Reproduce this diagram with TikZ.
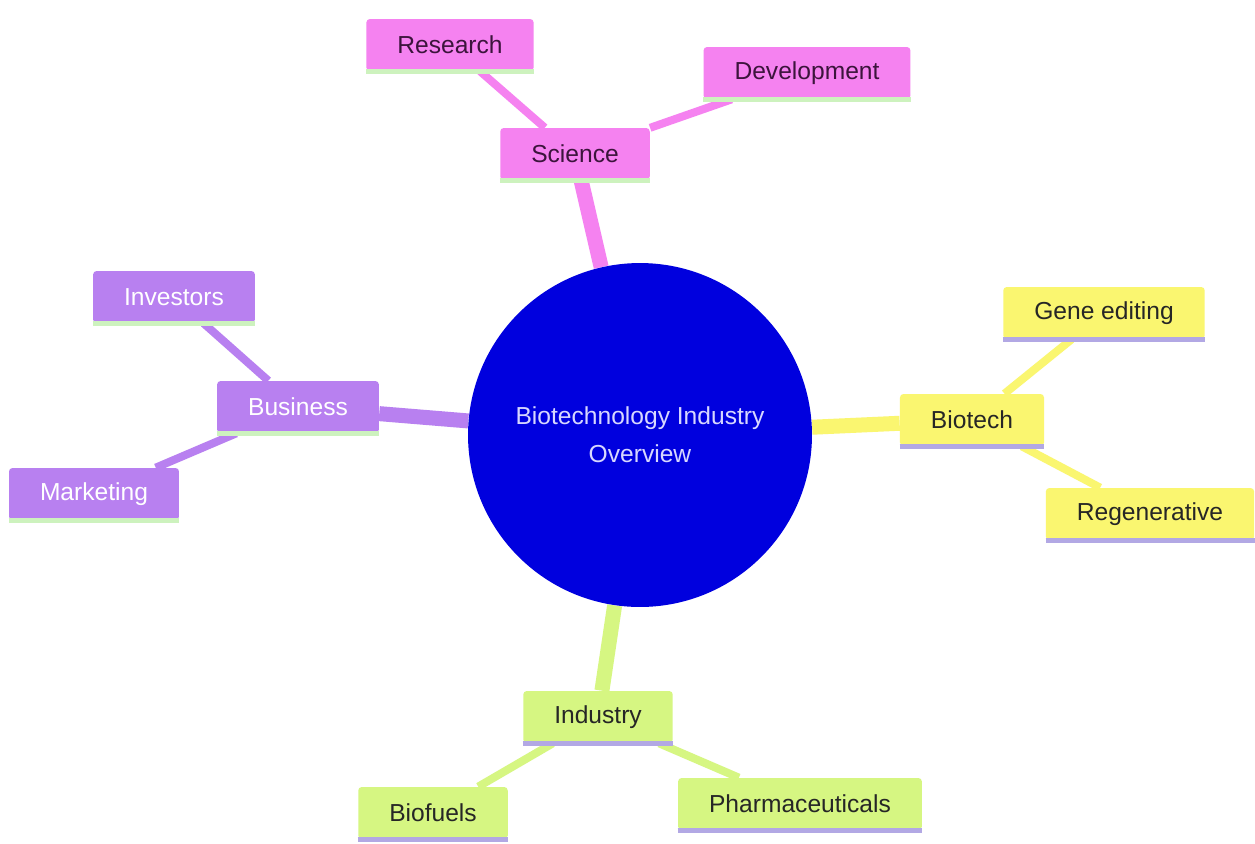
\documentclass[tikz,border=0pt]{standalone}
\usepackage{fontspec}
\setmainfont{Liberation Sans}
\usetikzlibrary{backgrounds}
\definecolor{sciencepink}{RGB}{245,130,240}
\definecolor{sciencetext}{RGB}{60,20,60}
\definecolor{businesspurple}{RGB}{184,128,240}
\definecolor{biotechyellow}{RGB}{250,246,112}
\definecolor{industrylime}{RGB}{214,246,130}
\definecolor{hubblue}{RGB}{0,0,222}
\definecolor{hubtext}{RGB}{215,215,255}
\definecolor{greenline}{RGB}{205,242,190}
\definecolor{lavenderline}{RGB}{178,168,228}
\tikzset{basic/.style={rectangle,rounded corners=2pt,inner xsep=0.62cm,minimum height=1.04cm,font=\fontsize{14}{16}\selectfont}}
\tikzset{science/.style={basic,fill=sciencepink,text=sciencetext}}
\tikzset{business/.style={basic,fill=businesspurple,text=white}}
\tikzset{biotech/.style={basic,fill=biotechyellow,text=black!85}}
\tikzset{industry/.style={basic,fill=industrylime,text=black!85}}
\tikzset{hub/.style={circle,fill=hubblue,text=hubtext,minimum size=6.88cm,align=center,font=\fontsize{14}{21.5}\selectfont}}
\tikzset{trunk/.style={line width=0.3cm}}
\tikzset{twig/.style={line width=0.16cm}}
\tikzset{uline/.style={line width=2.5pt}}

\begin{document}
\begin{tikzpicture}[x=0.02cm,y=-0.02cm]
    \useasboundingbox (0,0) rectangle (1255,843);
    % hub
    \node[hub] (center) at (640,435) {Biotechnology Industry\\Overview};
    % branches
    \node[science] (science) at (575,154) {Science};
    \node[science] (research) at (450,45) {Research};
    \node[science] (development) at (807,73) {Development};
    \node[business] (business) at (298,407) {Business};
    \node[business] (investors) at (174,297) {Investors};
    \node[business] (marketing) at (94,494) {Marketing};
    \node[biotech] (biotech) at (972,420) {Biotech};
    \node[biotech] (gene) at (1104,313) {Gene editing};
    \node[biotech] (regen) at (1150,514) {Regenerative};
    \node[industry] (industry) at (598,717) {Industry};
    \node[industry] (biofuels) at (433,813) {Biofuels};
    \node[industry] (pharma) at (800,804) {Pharmaceuticals};
    % underlines
    \foreach \n in {science,research,development,business,investors,marketing}
        \draw[uline,greenline] (\n.south west) -- (\n.south east);
    \foreach \n in {biotech,gene,regen,industry,biofuels,pharma}
        \draw[uline,lavenderline] (\n.south west) -- (\n.south east);
    % connectors
    \begin{scope}[on background layer]
        \fill[white] (0,0) rectangle (1255,843);
        \draw[trunk,sciencepink] (center) -- (science);
        \draw[twig,sciencepink] (science) -- (research);
        \draw[twig,sciencepink] (science) -- (development);
        \draw[trunk,businesspurple] (center) -- (business);
        \draw[twig,businesspurple] (business) -- (investors);
        \draw[twig,businesspurple] (business) -- (marketing);
        \draw[trunk,biotechyellow] (center) -- (biotech);
        \draw[twig,biotechyellow] (biotech) -- (gene);
        \draw[twig,biotechyellow] (biotech) -- (regen);
        \draw[trunk,industrylime] (center) -- (industry);
        \draw[twig,industrylime] (industry) -- (biofuels);
        \draw[twig,industrylime] (industry) -- (pharma);
    \end{scope}
\end{tikzpicture}
\end{document}
